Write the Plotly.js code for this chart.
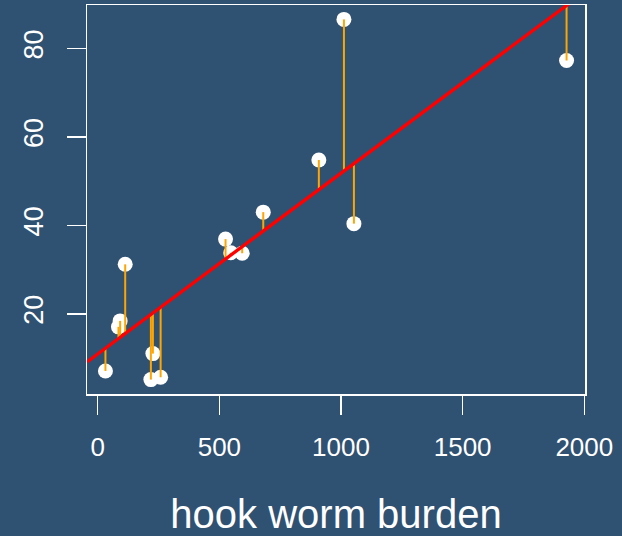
<!DOCTYPE html>
<html>
<head>
<meta charset="utf-8">
<script src="https://cdn.plot.ly/plotly-3.0.1.min.js"></script>
<style>
  html, body { margin: 0; padding: 0; background: #2F5172; }
  #chart { width: 622px; height: 536px; }
</style>
</head>
<body>
<div id="chart"></div>
<script>
// Hookworm burden against blood loss, with a least-squares fit and residuals
const burden = [31.8, 85.3, 92.2, 113, 218.6, 226.8, 258.6, 525.4, 547, 593.8, 680.4, 908.9, 1012, 1053, 1927];
const bloodLoss = [7.07, 17.05, 18.4, 31.2, 5.12, 11.0, 5.65, 36.9, 33.8, 33.7, 43.0, 54.8, 86.6, 40.4, 77.3];
const xTicks = [0, 500, 1000, 1500, 2000];
const yTicks = [20, 40, 60, 80];

const bg = '#2F5172';
const font = 'Liberation Sans, Arial, Helvetica, sans-serif';

// ordinary least squares fit
const n = burden.length;
const mx = burden.reduce((a, b) => a + b, 0) / n;
const my = bloodLoss.reduce((a, b) => a + b, 0) / n;
let sxy = 0, sxx = 0;
for (let i = 0; i < n; i++) {
  sxy += (burden[i] - mx) * (bloodLoss[i] - my);
  sxx += (burden[i] - mx) * (burden[i] - mx);
}
const slope = sxy / sxx;
const intercept = my - slope * mx;
const fitted = burden.map(v => intercept + slope * v);

// axis ranges padded by 4% on each side
function padded(arr) {
  const lo = Math.min(...arr), hi = Math.max(...arr), d = hi - lo;
  return [lo - 0.04 * d, hi + 0.04 * d];
}
const xRange = padded(burden);
const yRange = padded(bloodLoss);

// residual segments from each point to the fitted line
const segX = [], segY = [];
for (let i = 0; i < n; i++) {
  segX.push(burden[i], burden[i], null);
  segY.push(bloodLoss[i], fitted[i], null);
}

const traces = [
  {
    x: burden, y: bloodLoss, type: 'scatter', mode: 'markers',
    marker: { color: 'white', size: 15, line: { width: 0 } },
    hoverinfo: 'skip'
  },
  {
    x: segX, y: segY, type: 'scatter', mode: 'lines',
    line: { color: '#FFA500', width: 2 },
    hoverinfo: 'skip'
  },
  {
    x: xRange, y: xRange.map(v => intercept + slope * v),
    type: 'scatter', mode: 'lines',
    line: { color: '#FF0000', width: 3.3 },
    hoverinfo: 'skip'
  }
];

const axisCommon = {
  showgrid: false, zeroline: false,
  showline: true, mirror: true, linecolor: 'white', linewidth: 1.5,
  ticks: 'outside', ticklen: 19, tickwidth: 1.5, tickcolor: 'white',
  tickfont: { family: font, size: 26, color: 'white' },
  tickmode: 'array', fixedrange: true
};

const layout = {
  width: 622, height: 536,
  paper_bgcolor: bg, plot_bgcolor: bg,
  showlegend: false,
  margin: { l: 87, r: 37, t: 5, b: 142 },
  xaxis: Object.assign({}, axisCommon, {
    range: xRange, tickvals: xTicks, ticktext: xTicks.map(String),
    ticklabelstandoff: 10,
    title: { text: 'hook worm burden', font: { family: font, size: 40, color: 'white' }, standoff: 46 }
  }),
  yaxis: Object.assign({}, axisCommon, {
    range: yRange, tickvals: yTicks, ticktext: yTicks.map(String),
    tickangle: -90, ticklabelstandoff: 13,
    tickfont: { family: font, size: 27, color: 'white' }
  })
};

Plotly.newPlot('chart', traces, layout, { displayModeBar: false, staticPlot: true });
</script>
</body>
</html>
